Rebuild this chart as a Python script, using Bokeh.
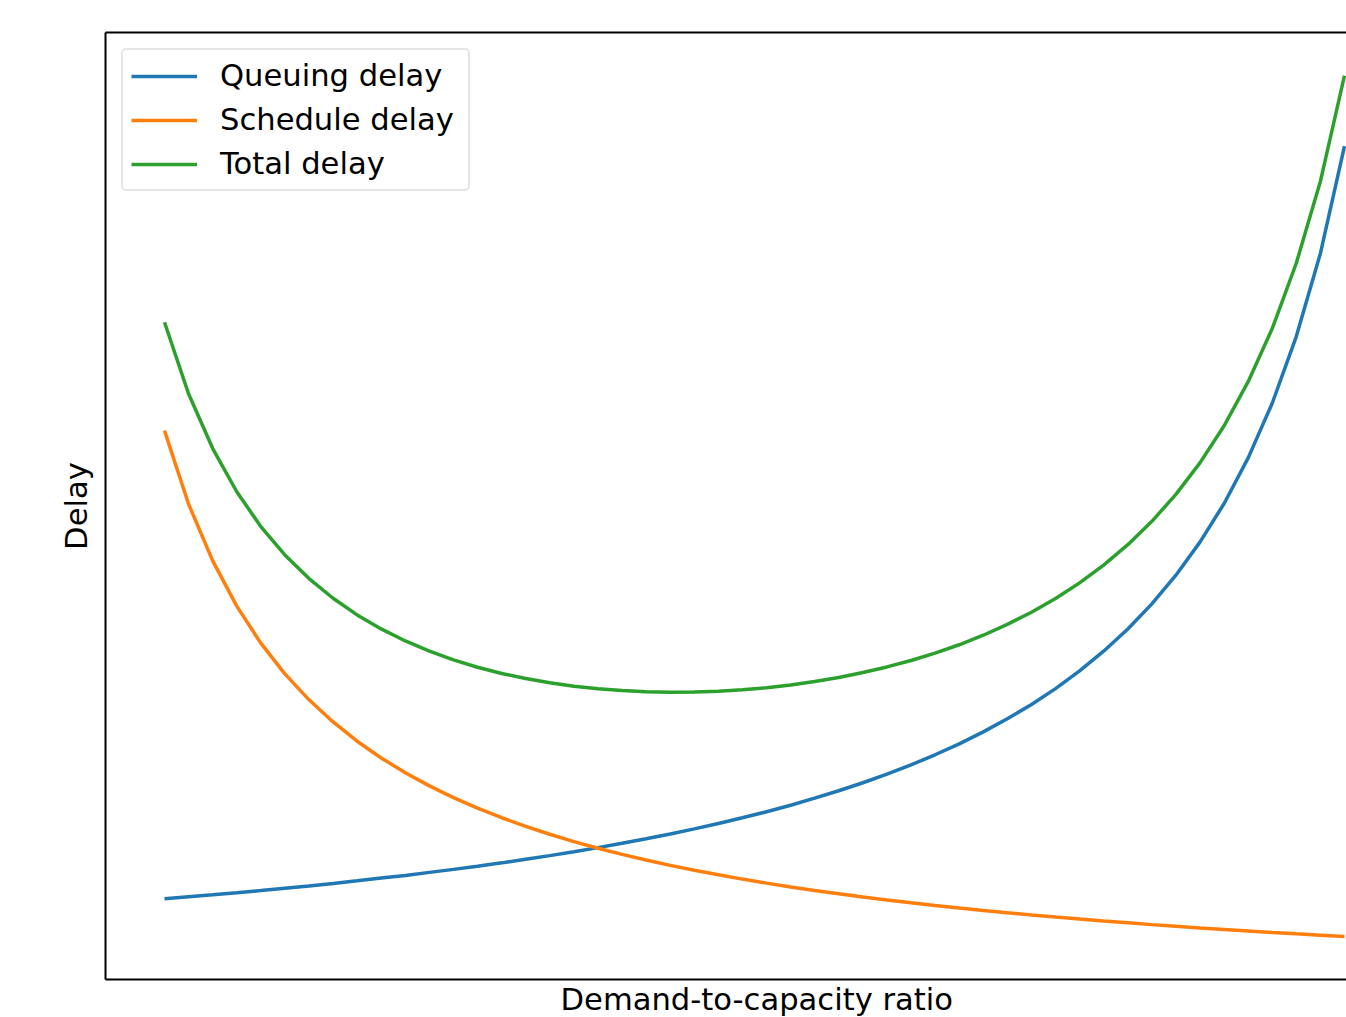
from bokeh.plotting import figure
from bokeh.models import Range1d, LinearAxis, FixedTicker, Legend, LegendItem, Title
from bokeh.embed import file_html
from bokeh.resources import INLINE

# Demand-to-capacity ratio (x positions of the sampled points)
ratio = [0.1000, 0.1163, 0.1327, 0.1490, 0.1653, 0.1816, 0.1980, 0.2143, 0.2306, 0.2469,
         0.2633, 0.2796, 0.2959, 0.3122, 0.3286, 0.3449, 0.3612, 0.3776, 0.3939, 0.4102,
         0.4265, 0.4429, 0.4592, 0.4755, 0.4918, 0.5082, 0.5245, 0.5408, 0.5571, 0.5735,
         0.5898, 0.6061, 0.6224, 0.6388, 0.6551, 0.6714, 0.6878, 0.7041, 0.7204, 0.7367,
         0.7531, 0.7694, 0.7857, 0.8020, 0.8184, 0.8347, 0.8510, 0.8673, 0.8837, 0.9000]

queuing_delay = [108.0, 110.0, 112.0, 114.1, 116.3, 118.6, 120.9, 123.4, 126.0, 128.7,
                 131.4, 134.4, 137.4, 140.6, 143.9, 147.5, 151.1, 155.0, 159.1, 163.4,
                 167.9, 172.7, 177.8, 183.1, 188.9, 194.9, 201.4, 208.4, 215.8, 223.8,
                 232.4, 241.6, 251.7, 262.6, 274.5, 287.6, 301.9, 317.7, 335.3, 355.0,
                 377.1, 402.2, 430.8, 463.8, 502.3, 547.8, 602.3, 668.8, 751.9, 858.6]

schedule_delay = [575.0, 501.8, 445.1, 399.9, 363.0, 332.4, 306.5, 284.4, 265.2, 248.5,
                  233.8, 220.7, 209.0, 198.4, 188.9, 180.3, 172.4, 165.1, 158.5, 152.4,
                  146.7, 141.4, 136.5, 132.0, 127.7, 123.7, 119.9, 116.4, 113.0, 109.9,
                  106.9, 104.1, 101.4, 98.8, 96.4, 94.1, 91.9, 89.8, 87.8, 85.9,
                  84.1, 82.3, 80.6, 79.0, 77.5, 76.0, 74.5, 73.1, 71.8, 70.5]

total_delay = [683.0, 611.8, 557.1, 514.0, 479.3, 451.0, 427.4, 407.8, 391.2, 377.2,
               365.2, 355.1, 346.4, 339.0, 332.8, 327.8, 323.5, 320.1, 317.6, 315.8,
               314.6, 314.1, 314.3, 315.1, 316.6, 318.6, 321.3, 324.8, 328.8, 333.7,
               339.3, 345.7, 353.1, 361.4, 370.9, 381.7, 393.8, 407.5, 423.1, 440.9,
               461.2, 484.5, 511.4, 542.8, 579.8, 623.8, 676.8, 741.9, 823.7, 929.1]

series_names = ["Queuing delay", "Schedule delay", "Total delay"]
series_colors = ["#1f77b4", "#ff7f0e", "#2ca02c"]

FONT = "DejaVu Sans"
FSIZE = "30.6px"

# ranges: matplotlib-like 5% margins; the right part of the axes is cropped off
xmin, xmax = min(ratio), max(ratio)
xspan = xmax - xmin
x_start = xmin - 0.05 * xspan
x_full = 1.1 * xspan
frame_w, full_w = 1241, 1298
x_end = x_start + x_full * frame_w / full_w

all_y = queuing_delay + schedule_delay + total_delay
ymin, ymax = min(all_y), max(all_y)
ypad = 0.05 * (ymax - ymin)

p = figure(width=1346, height=1017, output_backend="svg", toolbar_location=None,
           x_axis_type=None, y_axis_type=None,
           x_range=Range1d(x_start, x_end), y_range=Range1d(ymin - ypad, ymax + ypad),
           min_border_left=105, min_border_right=0, min_border_top=32, min_border_bottom=38)
p.outline_line_color = None
p.background_fill_color = "white"
p.border_fill_color = "white"

axis_style = dict(ticker=FixedTicker(ticks=[]), axis_line_width=2, axis_line_color="black",
                  major_tick_line_color=None, minor_tick_line_color=None,
                  major_tick_out=0, major_tick_in=0,
                  major_label_text_font_size="0px")

left_axis = LinearAxis(axis_label="Delay", axis_label_standoff=12,
                       axis_label_text_font=FONT, axis_label_text_font_size=FSIZE,
                       axis_label_text_font_style="normal", axis_label_text_color="black",
                       **axis_style)
p.add_layout(left_axis, "left")
p.add_layout(LinearAxis(**axis_style), "below")
p.add_layout(LinearAxis(**axis_style), "above")

renderers = []
for ys, c in zip([queuing_delay, schedule_delay, total_delay], series_colors):
    r = p.line(ratio, ys, line_color=c, line_width=3.5)
    renderers.append(r)

legend = Legend(items=[LegendItem(label=n, renderers=[r]) for n, r in zip(series_names, renderers)],
                location="top_left", margin=16, padding=8, spacing=9,
                glyph_width=66, glyph_height=34, label_height=34, label_width=240,
                label_standoff=23,
                label_text_font_size=FSIZE, label_text_font=FONT, label_text_color="black",
                border_line_color="#cccccc", border_line_width=2, border_radius=5,
                background_fill_color="white", background_fill_alpha=0.8)
p.add_layout(legend)

xlabel = Title(text="Demand-to-capacity ratio", align="left", offset=455,
               text_font=FONT, text_font_size=FSIZE, text_font_style="normal",
               text_color="black", standoff=0)
p.add_layout(xlabel, "below")

open("out.html", "w").write(file_html(p, INLINE))
